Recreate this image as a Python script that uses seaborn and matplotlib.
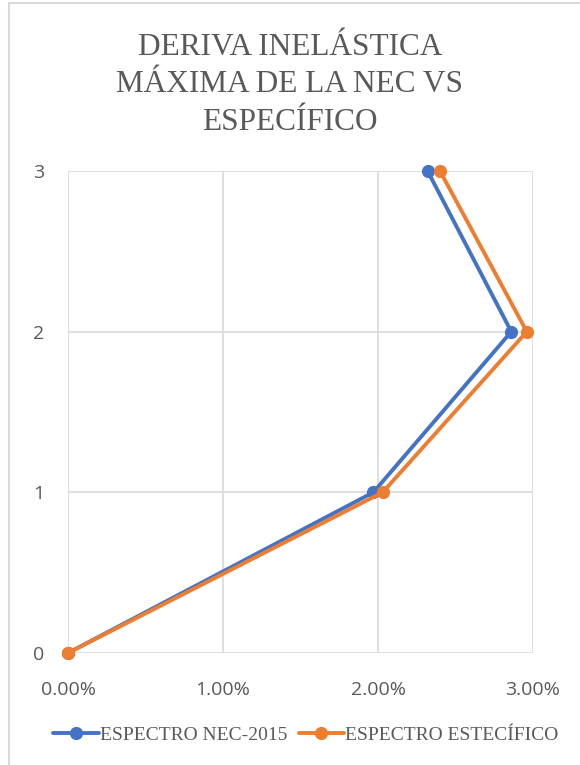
import matplotlib
matplotlib.use("Agg")
import matplotlib.pyplot as plt
import matplotlib.patches as mpatches
import seaborn as sns
import pandas as pd

# Storey drift values (fraction of storey height) per level
niveles = [0, 1, 2, 3]
deriva_nec = [0.0, 0.0197, 0.0286, 0.0232]
deriva_especifico = [0.0, 0.0203, 0.0296, 0.0240]
series_names = ["ESPECTRO NEC-2015", "ESPECTRO ESTECÍFICO"]
series_colors = ["#4472C4", "#ED7D31"]
x_ticks = [0.0, 0.01, 0.02, 0.03]
x_tick_labels = ["0.00%", "1.00%", "2.00%", "3.00%"]
y_ticks = [0, 1, 2, 3]
title = "DERIVA INELÁSTICA\nMÁXIMA DE LA NEC VS\nESPECÍFICO"

df = pd.concat([
    pd.DataFrame({"deriva": deriva_nec, "nivel": niveles, "serie": series_names[0]}),
    pd.DataFrame({"deriva": deriva_especifico, "nivel": niveles, "serie": series_names[1]}),
])

sns.set_theme(style="white")
text_color = "#595959"
grid_color = "#D9D9D9"

fig = plt.figure(figsize=(5.8, 7.65), dpi=100)
ax = fig.add_axes([68 / 580, 1 - 653 / 765, (533 - 68) / 580, (653 - 171) / 765])

# Chart frame visible on top and left
fig.add_artist(mpatches.Rectangle((9 / 580, -0.05), 1.2, 1 - 3 / 765 + 0.05,
                                  transform=fig.transFigure, fill=False,
                                  edgecolor="#D9D9D9", linewidth=1.5))

sns.lineplot(data=df, x="deriva", y="nivel", hue="serie", palette=series_colors,
             sort=False, estimator=None, marker="o", markersize=9.5,
             markeredgewidth=0, linewidth=2.8, ax=ax, legend=False, zorder=3)

ax.set_xlim(0, 0.03)
ax.set_ylim(0, 3)
ax.set_xticks(x_ticks)
ax.set_xticklabels(x_tick_labels)
ax.set_yticks(y_ticks)
ax.set_xlabel("")
ax.set_ylabel("")
ax.grid(True, color=grid_color, linewidth=1.2)
for s in ax.spines.values():
    s.set_visible(False)
ax.tick_params(length=0, labelsize=14, colors=text_color)
ax.tick_params(axis="x", pad=20)
ax.tick_params(axis="y", pad=17)
for lbl in ax.get_xticklabels() + ax.get_yticklabels():
    lbl.set_family(["Open Sans", "DejaVu Sans"])
for l in ax.lines:
    l.set_clip_on(False)

fig.text(0.5, 1 - 85 / 765, title, ha="center", va="center",
         family=["Liberation Serif"], fontsize=22.5, color=text_color,
         linespacing=1.38)

handles = [plt.Line2D([], [], color=c, marker="o", markersize=9.5, linewidth=2.8,
                      markeredgewidth=0) for c in series_colors]
leg = fig.legend(handles, series_names, loc="center", bbox_to_anchor=(0.527, 1 - 735 / 765),
                 ncol=2, frameon=False, handlelength=2.35, columnspacing=0.6,
                 handletextpad=0.05,
                 prop={"family": "Liberation Serif", "size": 14})
for t in leg.get_texts():
    t.set_color(text_color)

fig.savefig("out.png", dpi=100, facecolor="white")
